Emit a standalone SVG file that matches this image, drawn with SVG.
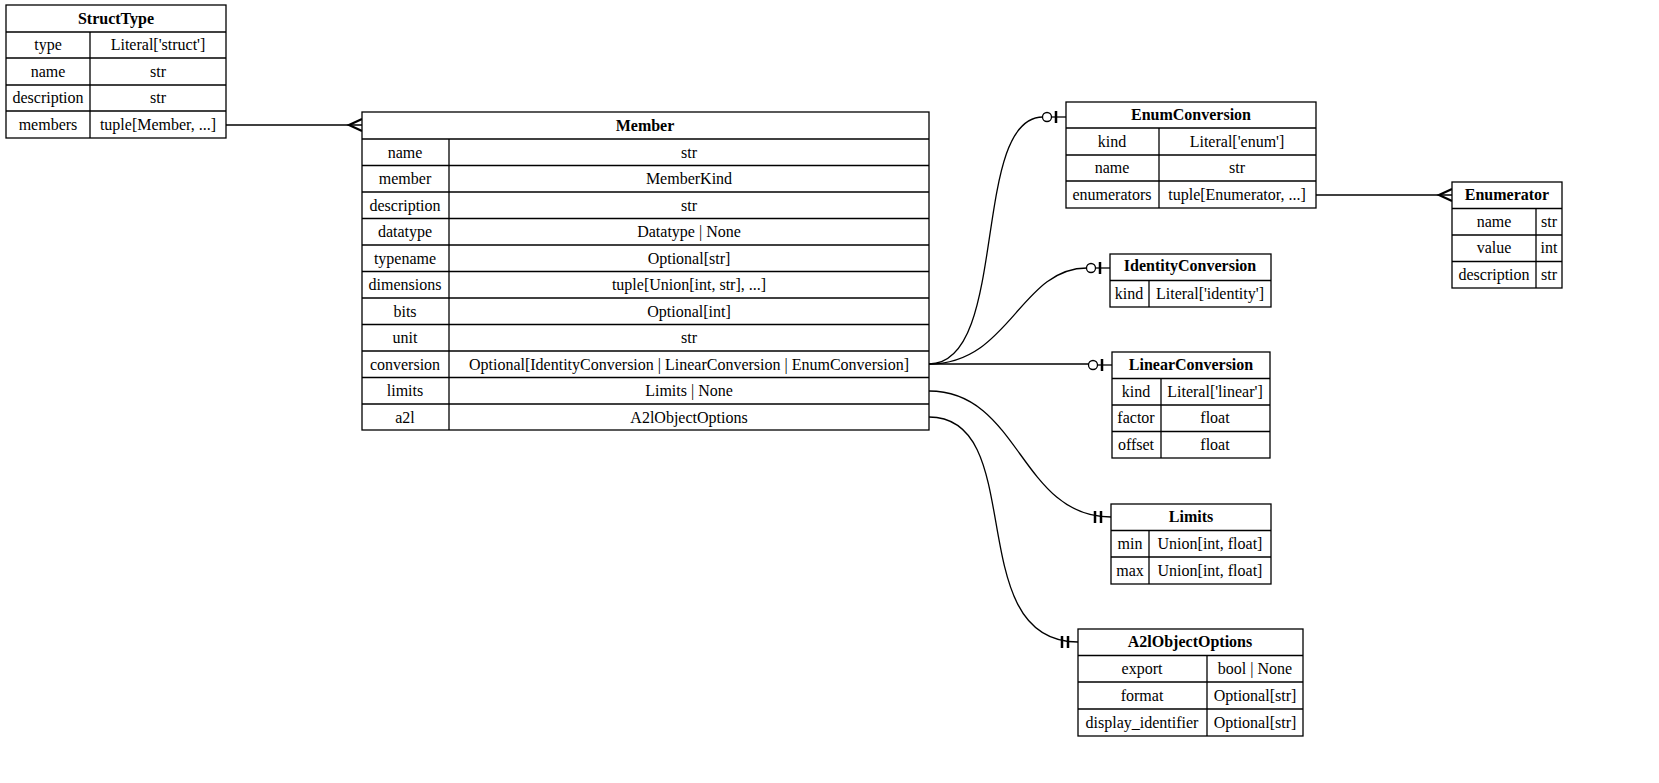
<svg xmlns="http://www.w3.org/2000/svg" width="1659" height="783" viewBox="0 0 1659 783">
<style>
rect,line.d{fill:#fff;stroke:#000;stroke-width:1.3}
line.d{fill:none}
text{font-family:'Liberation Serif','Times New Roman','DejaVu Serif',serif;font-size:16px;text-anchor:middle;fill:#000}
text.h{font-weight:bold}
.c path,.c line{fill:none;stroke:#000;stroke-width:1.3}
.c circle{fill:#fff;stroke:#000;stroke-width:1.3}
.c .bar{stroke-width:2.5}
.c .crow{stroke-width:2.2}
</style>
<rect width="1659" height="783" style="stroke:none"/>
<g class="c" id="connectors">
<path d="M226,125 H362"/><path class="crow" d="M362,119 L349,125 L362,131"/>
<path d="M1316,195 H1452"/><path class="crow" d="M1452,189 L1439,195 L1452,201"/>
<path d="M929,364 C1010,364 970,117 1043,117"/><circle cx="1047" cy="117" r="4.5"/><line class="bar" x1="1056" y1="111" x2="1056" y2="123"/><line x1="1052" y1="117" x2="1066" y2="117"/>
<path d="M929,364 C1010,364 1020,268 1087,268"/><circle cx="1091" cy="268" r="4.5"/><line class="bar" x1="1100" y1="262" x2="1100" y2="274"/><line x1="1096" y1="268" x2="1110" y2="268"/>
<path d="M929,364 H1089"/><circle cx="1093" cy="365" r="4.5"/><line class="bar" x1="1102" y1="359" x2="1102" y2="371"/><line x1="1098" y1="365" x2="1112" y2="365"/>
<path d="M929,391 C1020,391 1020,517 1111,517"/><line class="bar" x1="1095" y1="511" x2="1095" y2="523"/><line class="bar" x1="1101" y1="511" x2="1101" y2="523"/>
<path d="M929,417 C1030,417 960,642 1078,642"/><line class="bar" x1="1062" y1="636" x2="1062" y2="648"/><line class="bar" x1="1068" y1="636" x2="1068" y2="648"/>
</g>
<g id="StructType">
<rect x="6" y="5" width="220" height="133"/>
<line class="d" x1="6" y1="32" x2="226" y2="32"/><line class="d" x1="6" y1="58" x2="226" y2="58"/><line class="d" x1="6" y1="85" x2="226" y2="85"/><line class="d" x1="6" y1="111" x2="226" y2="111"/><line class="d" x1="90" y1="32" x2="90" y2="138"/>
<text class="h" x="116" y="24">StructType</text>
<text x="48" y="50">type</text><text x="158" y="50">Literal['struct']</text>
<text x="48" y="77">name</text><text x="158" y="77">str</text>
<text x="48" y="103">description</text><text x="158" y="103">str</text>
<text x="48" y="130">members</text><text x="158" y="130">tuple[Member, ...]</text>
</g>
<g id="Member">
<rect x="362" y="112" width="567" height="318"/>
<g>
<line class="d" x1="362" y1="139" x2="929" y2="139"/><line class="d" x1="362" y1="165.5" x2="929" y2="165.5"/><line class="d" x1="362" y1="192" x2="929" y2="192"/><line class="d" x1="362" y1="218.5" x2="929" y2="218.5"/><line class="d" x1="362" y1="245" x2="929" y2="245"/><line class="d" x1="362" y1="271.5" x2="929" y2="271.5"/><line class="d" x1="362" y1="298" x2="929" y2="298"/><line class="d" x1="362" y1="324.5" x2="929" y2="324.5"/><line class="d" x1="362" y1="351" x2="929" y2="351"/><line class="d" x1="362" y1="377.5" x2="929" y2="377.5"/><line class="d" x1="362" y1="404" x2="929" y2="404"/><line class="d" x1="449" y1="139" x2="449" y2="430"/>
</g>
<text class="h" x="645" y="131">Member</text>
<text x="405" y="158">name</text><text x="689" y="158">str</text>
<text x="405" y="184">member</text><text x="689" y="184">MemberKind</text>
<text x="405" y="211">description</text><text x="689" y="211">str</text>
<text x="405" y="237">datatype</text><text x="689" y="237">Datatype | None</text>
<text x="405" y="264">typename</text><text x="689" y="264">Optional[str]</text>
<text x="405" y="290">dimensions</text><text x="689" y="290">tuple[Union[int, str], ...]</text>
<text x="405" y="317">bits</text><text x="689" y="317">Optional[int]</text>
<text x="405" y="343">unit</text><text x="689" y="343">str</text>
<text x="405" y="370">conversion</text><text x="689" y="370">Optional[IdentityConversion | LinearConversion | EnumConversion]</text>
<text x="405" y="396">limits</text><text x="689" y="396">Limits | None</text>
<text x="405" y="423">a2l</text><text x="689" y="423">A2lObjectOptions</text>
</g>
<g id="EnumConversion">
<rect x="1066" y="102" width="250" height="106"/>
<line class="d" x1="1066" y1="128" x2="1316" y2="128"/><line class="d" x1="1066" y1="155" x2="1316" y2="155"/><line class="d" x1="1066" y1="181" x2="1316" y2="181"/><line class="d" x1="1159" y1="128" x2="1159" y2="208"/>
<text class="h" x="1191" y="120">EnumConversion</text>
<text x="1112" y="147">kind</text><text x="1237" y="147">Literal['enum']</text>
<text x="1112" y="173">name</text><text x="1237" y="173">str</text>
<text x="1112" y="200">enumerators</text><text x="1237" y="200">tuple[Enumerator, ...]</text>
</g>
<g id="Enumerator">
<rect x="1452" y="182" width="110" height="106"/>
<line class="d" x1="1452" y1="208.5" x2="1562" y2="208.5"/><line class="d" x1="1452" y1="235" x2="1562" y2="235"/><line class="d" x1="1452" y1="261.5" x2="1562" y2="261.5"/><line class="d" x1="1536" y1="208.5" x2="1536" y2="288"/>
<text class="h" x="1507" y="200">Enumerator</text>
<text x="1494" y="227">name</text><text x="1549" y="227">str</text>
<text x="1494" y="253">value</text><text x="1549" y="253">int</text>
<text x="1494" y="280">description</text><text x="1549" y="280">str</text>
</g>
<g id="IdentityConversion">
<rect x="1110" y="254" width="161" height="53"/>
<line class="d" x1="1110" y1="280.5" x2="1271" y2="280.5"/><line class="d" x1="1149" y1="280.5" x2="1149" y2="307"/>
<text class="h" x="1190" y="271">IdentityConversion</text>
<text x="1129" y="299">kind</text><text x="1210" y="299">Literal['identity']</text>
</g>
<g id="LinearConversion">
<rect x="1112" y="352" width="158" height="106"/>
<line class="d" x1="1112" y1="378.5" x2="1270" y2="378.5"/><line class="d" x1="1112" y1="405" x2="1270" y2="405"/><line class="d" x1="1112" y1="431.5" x2="1270" y2="431.5"/><line class="d" x1="1161" y1="378.5" x2="1161" y2="458"/>
<text class="h" x="1191" y="370">LinearConversion</text>
<text x="1136" y="397">kind</text><text x="1215" y="397">Literal['linear']</text>
<text x="1136" y="423">factor</text><text x="1215" y="423">float</text>
<text x="1136" y="450">offset</text><text x="1215" y="450">float</text>
</g>
<g id="Limits">
<rect x="1111" y="504" width="160" height="80"/>
<line class="d" x1="1111" y1="530.5" x2="1271" y2="530.5"/><line class="d" x1="1111" y1="557" x2="1271" y2="557"/><line class="d" x1="1149" y1="530.5" x2="1149" y2="584"/>
<text class="h" x="1191" y="522">Limits</text>
<text x="1130" y="549">min</text><text x="1210" y="549">Union[int, float]</text>
<text x="1130" y="576">max</text><text x="1210" y="576">Union[int, float]</text>
</g>
<g id="A2lObjectOptions">
<rect x="1078" y="629" width="225" height="107"/>
<line class="d" x1="1078" y1="655.5" x2="1303" y2="655.5"/><line class="d" x1="1078" y1="682" x2="1303" y2="682"/><line class="d" x1="1078" y1="709" x2="1303" y2="709"/><line class="d" x1="1207" y1="655.5" x2="1207" y2="736"/>
<text class="h" x="1190" y="647">A2lObjectOptions</text>
<text x="1142" y="674">export</text><text x="1255" y="674">bool | None</text>
<text x="1142" y="701">format</text><text x="1255" y="701">Optional[str]</text>
<text x="1142" y="728">display_identifier</text><text x="1255" y="728">Optional[str]</text>
</g>
</svg>
